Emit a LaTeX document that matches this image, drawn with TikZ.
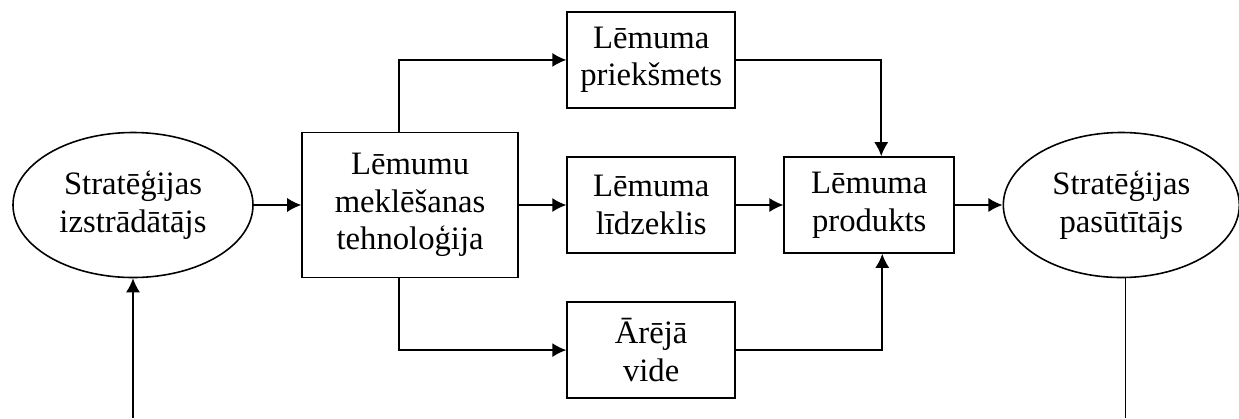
\documentclass[tikz,border=0pt]{standalone}
\usepackage{fontspec}
\setmainfont{Liberation Serif}
\usetikzlibrary{shapes.geometric,arrows.meta,positioning}

\begin{document}
\begin{tikzpicture}[>={Latex[length=8pt,width=8pt]},line width=0.9pt,
  every node/.style={align=center,font=\fontsize{18.6}{21.4}\selectfont},
  actor/.style={draw,ellipse,minimum width=4.8cm,minimum height=2.9cm,inner sep=0pt},
  blk/.style={draw,rectangle,minimum width=3.36cm,minimum height=1.92cm,inner sep=0pt},
  node distance=0.95cm]
\useasboundingbox (-2.66,-4.26) rectangle (22.12,4.10);

\node[actor] (dev) {Stratēģijas\\izstrādātājs};
\node[blk,right=of dev,minimum width=4.32cm,minimum height=2.9cm] (tech) {Lēmumu\\meklēšanas\\tehnoloģija};
\node[blk,right=of tech] (means) {Lēmuma\\līdzeklis};
\node[blk,above=of means] (subj) {Lēmuma\\priekšmets};
\node[blk,below=of means] (env) {Ārējā\\vide};
\node[blk,right=of means,minimum width=3.4cm] (prod) {Lēmuma\\produkts};
\node[actor,right=of prod,minimum width=4.72cm] (cust) {Stratēģijas\\pasūtītājs};

\coordinate (in) at (dev.south |- 0,-4.26);
\coordinate (out) at ([xshift=0.08cm]cust.south |- 0,-4.26);

\draw[->] (in) -- (dev.south);
\draw[thin] (cust.south -| out) -- (out);
\draw[->] (dev) -- (tech);
\draw[->] (tech) -- (means);
\draw[->] ([xshift=-0.22cm]tech.north) |- (subj.west);
\draw[->] ([xshift=-0.22cm]tech.south) |- (env.west);
\draw[->] (means) -- (prod);
\draw[->] (subj.east) -| ([xshift=0.24cm]prod.north);
\draw[->] (env.east) -| ([xshift=0.26cm]prod.south);
\draw[->] (prod) -- (cust);
\end{tikzpicture}
\end{document}
